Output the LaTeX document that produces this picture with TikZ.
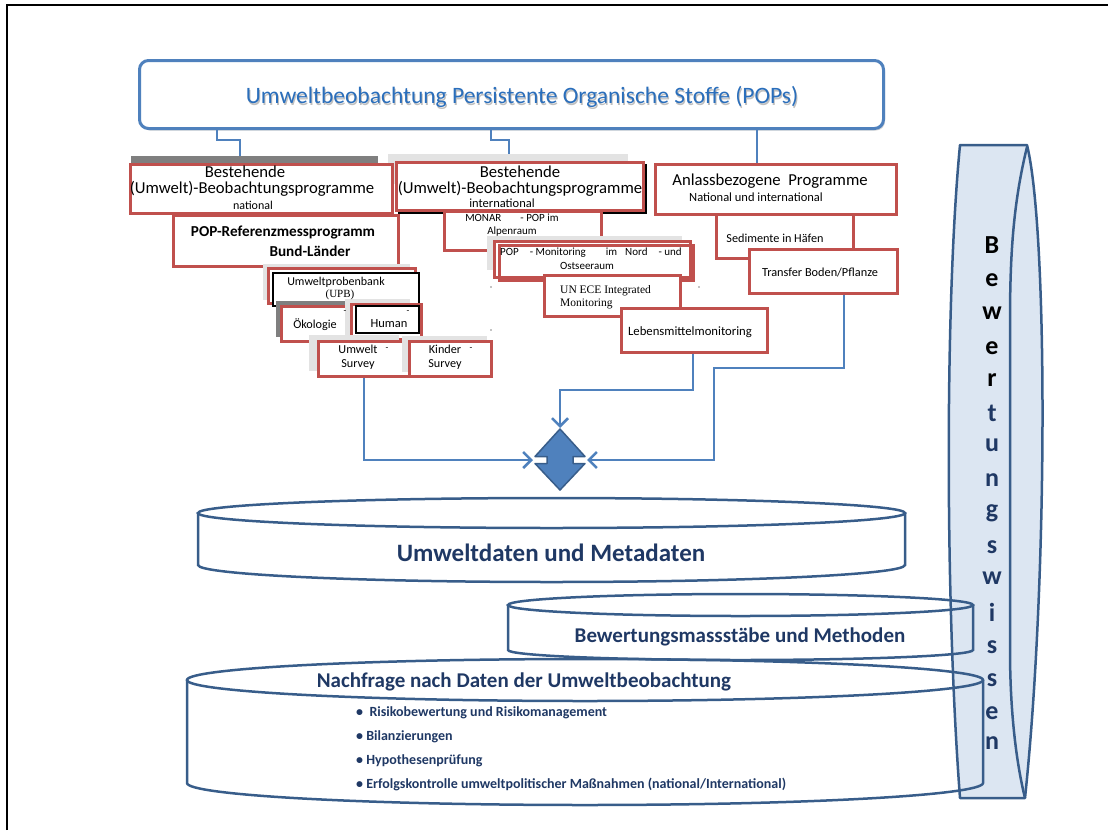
\documentclass[tikz,border=0pt]{standalone}
\usepackage{fontspec}
\setmainfont{Carlito}
\newfontfamily\tnr{Liberation Serif}
\usetikzlibrary{arrows.meta,shadows}
\definecolor{rd}{HTML}{C0504D}
\definecolor{cb}{HTML}{4F81BD}
\definecolor{dk}{HTML}{385D8A}
\definecolor{nv}{HTML}{1F3864}
\definecolor{tt}{HTML}{2A6EBB}
\definecolor{sc}{HTML}{DCE6F2}
\definecolor{lg}{HTML}{E3E3E3}
\definecolor{dg}{HTML}{7F7F7F}
\newcommand\myfs[2]{\fontsize{#1}{#2}\selectfont}
\tikzset{
  rbox/.style={draw=rd, line width=2.5pt, fill=white, anchor=north west, inner sep=0pt},
  kbox/.style={draw=black, line width=1.5pt, fill=white, anchor=north west, inner sep=0pt},
  shd/.style={fill=#1, draw=none, anchor=north west, inner sep=0pt},
  txt/.style={inner sep=0pt, align=center, font=\myfs{12}{13}},
  conn/.style={draw=cb, line width=2.5pt},
  arr/.style={conn, -{Straight Barb[length=8pt,width=16pt]}},
  cyl/.style={draw=dk, line width=2.5pt},
  ctxt/.style={inner sep=0pt, text=nv, font=\bfseries},
  lett/.style={inner sep=0pt, font=\myfs{26}{26}\bfseries}
}
\begin{document}
\begin{tikzpicture}[x=1pt,y=-1pt]
\useasboundingbox (0,0) rectangle (1108,830);
% frame
\draw[line width=2pt] (7,830) -- (7,5) -- (1108,5);

% title
\node[draw=cb, line width=3pt, rounded corners=9pt, fill=white, minimum width=744pt, minimum height=68pt, anchor=north west, inner sep=0pt,
  drop shadow={opacity=0.35,shadow xshift=1.5pt,shadow yshift=-2pt}] (title) at (138,59) {};
\node[inner sep=0pt, text=black, opacity=0.25, font=\myfs{23.5}{24}] (titsh) at (523,98.5) {Umweltbeobachtung Persistente Organische Stoffe (POPs)};
\node[inner sep=0pt, text=tt, font=\myfs{23.5}{24}] (titt) at (522,97) {Umweltbeobachtung Persistente Organische Stoffe (POPs)};

% shadows
\node[shd=dg, minimum width=247pt, minimum height=20pt] (natsh) at (131,156) {};
\node[shd=lg, minimum width=240pt, minimum height=30pt] (midsh) at (388,154) {};

% top connectors
\coordinate (tA) at (217,140);
\coordinate (tB) at (240,140);
\coordinate (tC) at (491,140);
\coordinate (tD) at (509,140);
\coordinate (tE) at (757,140);
\draw[conn] (title.south -| tA) -- (tA) -- (tB) -- (natsh.north -| tB);
\draw[conn] (title.south -| tC) -- (tC) -- (tD) -- (midsh.north -| tD);

% left column
\node[rbox, minimum width=262pt, minimum height=49pt] (nat) at (129,163) {};
\node[rbox, minimum width=225pt, minimum height=51pt] (popr) at (172,214) {};
\node[shd=lg, minimum width=147pt, minimum height=36pt] (upbsh) at (263,264) {};
\node[rbox, minimum width=147pt, minimum height=35pt] (upbr) at (267,267) {};
\node[kbox, minimum width=146pt, minimum height=33pt] (upb) at (272,272) {};
\node[shd=dg, minimum width=70pt, minimum height=36pt] (oeksh) at (276,301) {};
\node[rbox, minimum width=72pt, minimum height=35pt] (oeko) at (280,305) {};
\node[shd=lg, minimum width=65pt, minimum height=36pt] (humsh) at (345,299) {};
\node[rbox, minimum width=70pt, minimum height=35pt] (humr) at (350,303) {};
\node[kbox, minimum width=63pt, minimum height=27pt] (hum) at (355,305) {};
\node[shd=lg, minimum width=90pt, minimum height=36pt] (ussh) at (309,335) {};
\node[rbox, minimum width=91pt, minimum height=35pt] (usurv) at (317,340) {};
\node[shd=lg, minimum width=85pt, minimum height=36pt] (kssh) at (402,336) {};
\node[rbox, minimum width=82pt, minimum height=35pt] (ksurv) at (408,340) {};

% middle column
\node[kbox, minimum width=247pt, minimum height=48pt] (midk) at (398,164) {};
\node[rbox, minimum width=247pt, minimum height=48pt] (mid) at (395,161) {};
\node[shd=dg, minimum width=157pt, minimum height=39pt] (monsh) at (446,213) {};
\node[rbox, minimum width=157pt, minimum height=39pt] (monar) at (443,210) {};
\node[shd=lg, minimum width=195pt, minimum height=34pt] (popmsh) at (487,236) {};
\node[rbox, minimum width=196pt, minimum height=36pt] (popm) at (493,240) {};
\node[rbox, fill=none, minimum width=194pt, minimum height=35pt] (popm2) at (498,244) {};
\node[rbox, minimum width=136pt, minimum height=41pt] (unece) at (543,274) {};
\node[rbox, minimum width=146pt, minimum height=44pt] (lebens) at (620,307) {};

% right column
\node[rbox, minimum width=137pt, minimum height=44pt] (sed) at (715,213) {};
\node[rbox, minimum width=241pt, minimum height=50pt] (anlass) at (654,163) {};
\node[rbox, minimum width=148pt, minimum height=44pt] (transfer) at (748,248) {};
\draw[conn] (title.south -| tE) -- (anlass.north -| tE);

% texts
\node[txt, font=\myfs{16.7}{18}] (natt1) at (245,172) {Bestehende};
\node[txt, font=\myfs{16.7}{18}] (natt2) at (252,189) {(Umwelt)-Beobachtungsprogramme};
\node[txt, font=\myfs{12}{13}] (natt3) at (253,205) {national};
\node[txt, font=\myfs{15.2}{17}\bfseries] (poprt1) at (283,233) {POP-Referenzmessprogramm};
\node[txt, font=\myfs{15.2}{17}\bfseries] (poprt2) at (310,251) {Bund-Länder};
\node[txt] (upbt1) at (336,282) {Umweltprobenbank};
\node[txt, font=\myfs{11}{12}\tnr] (upbt2) at (340,295) {(UPB)};
\node[txt, font=\myfs{12.2}{13}] (oekt) at (315,325) {Ökologie};
\node[txt, font=\myfs{9}{9}] (oekd) at (345,312) {-};
\node[txt, font=\myfs{12.5}{13}] (humt) at (389,324) {Human};
\node[txt, font=\myfs{9}{9}] (humd) at (408,312) {-};
\node[txt, font=\myfs{12.2}{13.5}] (ust) at (358,357) {Umwelt\\Survey};
\node[txt, font=\myfs{9}{9}] (usd) at (387,349) {-};
\node[txt, font=\myfs{12.2}{13.5}] (kst) at (445,357) {Kinder\\Survey};
\node[txt, font=\myfs{9}{9}] (ksd) at (471,349) {-};

\node[txt, font=\myfs{16.7}{18}] (midt1) at (520,172) {Bestehende};
\node[txt, font=\myfs{16.7}{18}] (midt2) at (520,189) {(Umwelt)-Beobachtungsprogramme};
\node[txt, font=\myfs{12.5}{13}] (midt3) at (502,203) {international};
\node[txt, font=\myfs{11}{13}] (mont) at (512,225) {MONAR\hspace{19pt}- POP im\\Alpenraum};
\node[txt, font=\myfs{11}{12}] (popmt1) at (591,253) {POP\hspace{11pt}- Monitoring\hspace{20pt}im\hspace{8pt}Nord\hspace{11pt}- und};
\node[txt, font=\myfs{11}{12}] (popmt2) at (587,266) {Ostseeraum};
\node[txt, anchor=west, align=left, font=\myfs{11.5}{12.5}\tnr] (unt) at (560,297) {UN ECE Integrated\\Monitoring};
\node[txt, font=\myfs{12.7}{13}] (lebt) at (690,332) {Lebensmittelmonitoring};

\node[txt, font=\myfs{16.7}{18}] (ant1) at (770,181) {Anlassbezogene\ \ Programme};
\node[txt, font=\myfs{12.5}{13}] (ant2) at (756,197) {National und international};
\node[txt, font=\myfs{12.2}{13}] (sedt) at (775,238) {Sedimente in Häfen};
\node[txt, font=\myfs{12.3}{13}] (trt) at (820,272) {Transfer Boden/Pflanze};

% dots
\fill (491,287) circle (0.7pt);
\fill (491,330) circle (0.7pt);
\fill (699,287) circle (0.7pt);

% scroll
\fill[sc] (960,145) -- (1027,145) .. controls (1048,230) and (1048,580) .. (1025,798) -- (960,798) .. controls (945,600) and (945,300) .. (960,145) -- cycle;
\draw[dk, line width=2.5pt, line join=round] (960,145) -- (1027,145) .. controls (1048,230) and (1048,580) .. (1025,798) -- (960,798) .. controls (945,600) and (945,300) .. (960,145) -- cycle;
\draw[dk, line width=2.5pt] (1027,147) .. controls (1014,200) and (1010,250) .. (1010,320) -- (1010,650) .. controls (1010,720) and (1018,770) .. (1025,798);
\node[lett] (l1) at (992,245) {B};
\node[lett] (l2) at (992,280) {e};
\node[lett] (l3) at (992,313) {w};
\node[lett] (l4) at (992,348) {e};
\node[lett] (l5) at (992,380) {r};
\node[lett, text=nv] (l6) at (992,413) {t};
\node[lett, text=nv] (l7) at (992,445) {u};
\node[lett, text=nv] (l8) at (992,480) {n};
\node[lett, text=nv] (l9) at (992,513) {g};
\node[lett, text=nv] (l10) at (992,547) {s};
\node[lett, text=nv] (l11) at (992,578) {w};
\node[lett, text=nv] (l12) at (992,612) {i};
\node[lett, text=nv] (l13) at (992,647) {s};
\node[lett, text=nv] (l14) at (992,680) {s};
\node[lett, text=nv] (l15) at (992,713) {e};
\node[lett, text=nv] (l16) at (992,743) {n};

% cylinders
\draw[cyl] (187,680) -- (187,783) arc[start angle=180,end angle=360,x radius=398pt,y radius=22pt] -- (983,680);
\draw[cyl] (585,680) ellipse[x radius=398pt,y radius=21pt];
\draw[cyl] (508,605) -- (508,650) arc[start angle=180,end angle=360,x radius=232.5pt,y radius=10pt] -- (973,605);
\draw[cyl] (740.5,605) ellipse[x radius=232.5pt,y radius=11pt];
\draw[cyl] (198,513) -- (198,565) arc[start angle=180,end angle=360,x radius=353.5pt,y radius=17pt] -- (905,513);
\draw[cyl] (551.5,513) ellipse[x radius=353.5pt,y radius=15pt];

\node[ctxt, font=\myfs{25}{26}\bfseries] (umw) at (551,553) {Umweltdaten und Metadaten};
\node[ctxt, font=\myfs{21}{22}\bfseries] (bew) at (740,637) {Bewertungsmassstäbe und Methoden};
\node[ctxt, font=\myfs{21}{22}\bfseries] (nach) at (524,682) {Nachfrage nach Daten der Umweltbeobachtung};
\node[ctxt, anchor=west, font=\myfs{14}{15}\bfseries] (b1) at (356,713) {\textbullet\ \ Risikobewertung und Risikomanagement};
\node[ctxt, anchor=west, font=\myfs{14}{15}\bfseries] (b2) at (356,737) {\textbullet\ Bilanzierungen};
\node[ctxt, anchor=west, font=\myfs{14}{15}\bfseries] (b3) at (356,761) {\textbullet\ Hypothesenprüfung};
\node[ctxt, anchor=west, font=\myfs{14}{15}\bfseries] (b4) at (356,784) {\textbullet\ Erfolgskontrolle umweltpolitischer Maßnahmen (national/International)};

% diamond
\coordinate (dia) at (560,460);
\draw[dk, line width=1.5pt, fill=cb, line join=round] (560,429) -- (585,456.5) -- (573,456.5) -- (573,463.5) -- (585,463.5) -- (560,490) -- (535,463.5) -- (547,463.5) -- (547,456.5) -- (535,456.5) -- cycle;
\coordinate (dL) at (533,460);
\coordinate (dR) at (587,460);
\coordinate (dT) at (560,428);

% bottom connectors
\coordinate (bA) at (364,460);
\coordinate (bB) at (693,390);
\coordinate (bC) at (560,390);
\coordinate (bD) at (844,368);
\coordinate (bE) at (714,368);
\coordinate (bF) at (714,460);
\draw[arr] (usurv.south -| bA) -- (bA) -- (dL);
\draw[arr] (lebens.south -| bB) -- (bB) -- (bC) -- (dT);
\draw[arr] (transfer.south -| bD) -- (bD) -- (bE) -- (bF) -- (dR);
\end{tikzpicture}
\end{document}
